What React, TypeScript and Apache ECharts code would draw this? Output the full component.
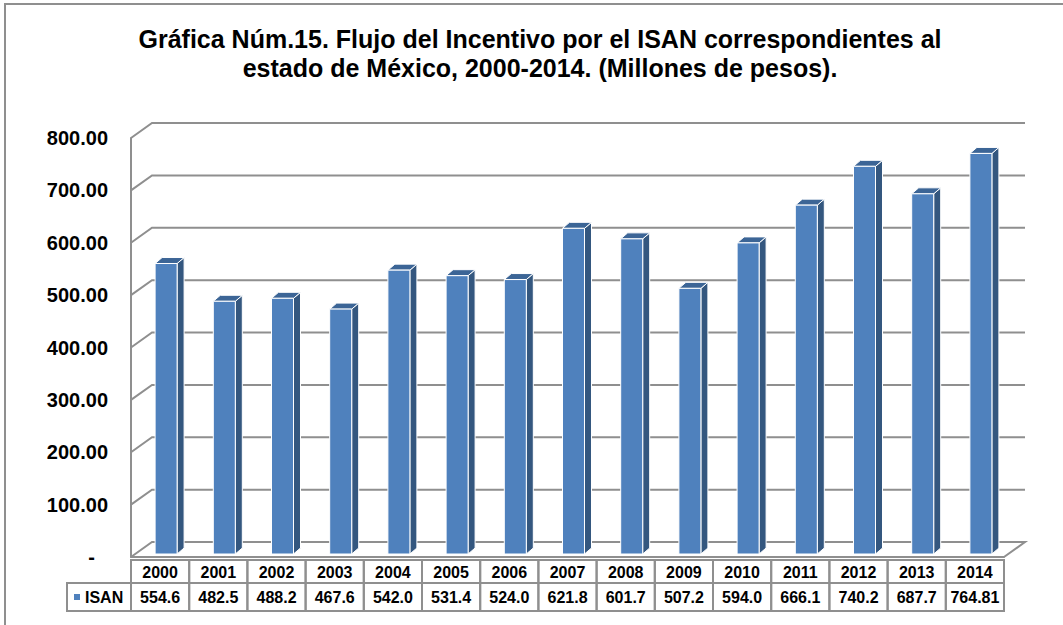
import React, { useEffect, useRef } from "react";
import * as echarts from "echarts";

const categories = ["2000", "2001", "2002", "2003", "2004", "2005", "2006", "2007", "2008", "2009", "2010", "2011", "2012", "2013", "2014"];
const isanValues = [554.6, 482.5, 488.2, 467.6, 542.0, 531.4, 524.0, 621.8, 601.7, 507.2, 594.0, 666.1, 740.2, 687.7, 764.81];
const yTicks = [0, 100, 200, 300, 400, 500, 600, 700, 800];
const seriesName = "ISAN";
const titleText = "Gráfica Núm.15. Flujo del Incentivo por el ISAN correspondientes al\nestado de México, 2000-2014. (Millones de pesos).";

const GRAY = "#8f8f8f";
const FRONT = "#4f81bd";
const SIDE = "#34577f";
const TOP = "#3c6596";
const DEPTH_X = 21;
const DEPTH_Y = -15;
const FONT = "'Liberation Sans', Arial, sans-serif";

function fmtValue(v: number): string {
  const t = v * 10;
  return Math.abs(t - Math.round(t)) < 1e-6 ? v.toFixed(1) : v.toFixed(2);
}

export default function App() {
  const ref = useRef<HTMLDivElement>(null);
  useEffect(() => {
    if (!ref.current) return;
    const chart = echarts.init(ref.current, null, { renderer: "svg" });
    const n = categories.length;

    const gridRender = (params: any, api: any) => {
      const v = api.value(1);
      const bw = api.size([1, 0])[0];
      const p0 = api.coord([0, v]);
      const p1 = api.coord([n - 1, v]);
      const x0 = p0[0] - bw / 2;
      const x1 = p1[0] + bw / 2;
      const y = p0[1];
      const pts: number[][] = [
        [x0, y],
        [x0 + DEPTH_X, y + DEPTH_Y],
        [x1 + DEPTH_X, y + DEPTH_Y],
      ];
      if (v === 0) pts.push([x1, y]);
      return {
        type: "polyline",
        shape: { points: pts },
        style: { stroke: GRAY, lineWidth: 2, fill: "none" },
        silent: true,
      };
    };

    const barRender = (params: any, api: any) => {
      const idx = api.value(0);
      const val = api.value(1);
      const base = api.coord([idx, 0]);
      const top = api.coord([idx, val]);
      const cx = base[0] + 6;
      const w = 22;
      const dx = 7;
      const dy = -6;
      const x0 = cx - w / 2;
      const x1 = cx + w / 2;
      const yT = top[1] - 3;
      const yB = base[1] - 3;
      return {
        type: "group",
        children: [
          {
            type: "polygon",
            shape: { points: [[x1, yT], [x1 + dx, yT + dy], [x1 + dx, yB + dy], [x1, yB]] },
            style: { fill: SIDE, stroke: "#ffffff", lineWidth: 1 },
          },
          {
            type: "polygon",
            shape: { points: [[x0, yT], [x0 + dx, yT + dy], [x1 + dx, yT + dy], [x1, yT]] },
            style: { fill: TOP, stroke: "#ffffff", lineWidth: 1 },
          },
          {
            type: "rect",
            shape: { x: x0, y: yT, width: w, height: yB - yT },
            style: { fill: FRONT, stroke: "#ffffff", lineWidth: 1 },
          },
        ],
      };
    };

    const tableRender = (params: any, api: any) => {
      const idx = api.value(0);
      const val = api.value(1);
      const bw = api.size([1, 0])[0];
      const c = api.coord([idx, 0]);
      const x0 = c[0] - bw / 2;
      const yTop = c[1] + 3;
      return {
        type: "group",
        children: [
          {
            type: "rect",
            shape: { x: x0, y: yTop, width: bw, height: 23 },
            style: { fill: "none", stroke: GRAY, lineWidth: 2 },
          },
          {
            type: "rect",
            shape: { x: x0, y: yTop + 23, width: bw, height: 28 },
            style: { fill: "none", stroke: GRAY, lineWidth: 2 },
          },
          {
            type: "text",
            x: c[0],
            y: yTop + 23 + 14.5,
            style: {
              text: fmtValue(val),
              fill: "#000",
              font: "bold 16px " + FONT,
              textAlign: "center",
              textVerticalAlign: "middle",
            },
          },
        ],
      };
    };

    chart.setOption({
      animation: false,
      backgroundColor: "#ffffff",
      title: {
        text: titleText,
        left: 540,
        top: 24,
        padding: 0,
        textAlign: "center",
        textStyle: {
          fontFamily: FONT,
          fontWeight: "bold",
          fontSize: 25,
          lineHeight: 29,
          color: "#000",
        },
      },
      grid: { left: 131, right: 59, top: 138, bottom: 68, containLabel: false },
      xAxis: {
        type: "category",
        data: categories,
        axisLine: { show: true, lineStyle: { color: GRAY, width: 2 } },
        axisTick: { show: false },
        axisLabel: {
          margin: 7,
          color: "#000",
          fontWeight: "bold",
          fontSize: 16,
          fontFamily: FONT,
        },
        splitLine: { show: false },
      },
      yAxis: {
        type: "value",
        min: 0,
        max: 800,
        interval: 100,
        axisLine: { show: true, lineStyle: { color: GRAY, width: 2 } },
        axisTick: { show: false },
        splitLine: { show: false },
        axisLabel: {
          margin: 23,
          color: "#000",
          fontWeight: "bold",
          fontSize: 20,
          fontFamily: FONT,
          formatter: (v: number) => (v === 0 ? "{d|-}" : v.toFixed(2)),
          rich: {
            d: {
              padding: [0, 13, 0, 0],
              fontWeight: "bold",
              fontSize: 20,
              color: "#000",
              fontFamily: FONT,
            },
          },
        },
      },
      graphic: [
        {
          type: "rect",
          shape: { x: 5, y: 4, width: 1100, height: 700 },
          style: { fill: "none", stroke: GRAY, lineWidth: 2 },
          silent: true,
          z: -10,
        },
        {
          type: "rect",
          shape: { x: 67, y: 583, width: 64, height: 28 },
          style: { fill: "none", stroke: GRAY, lineWidth: 2 },
          silent: true,
        },
        {
          type: "rect",
          shape: { x: 74, y: 594, width: 6, height: 6 },
          style: { fill: FRONT },
          silent: true,
        },
        {
          type: "text",
          x: 85,
          y: 597.5,
          style: {
            text: seriesName,
            fill: "#000",
            font: "bold 16px " + FONT,
            textAlign: "left",
            textVerticalAlign: "middle",
          },
          silent: true,
        },
      ],
      series: [
        {
          type: "custom",
          name: "grid3d",
          clip: false,
          z: 1,
          silent: true,
          renderItem: gridRender,
          encode: { x: 0, y: 1 },
          data: yTicks.map((v) => [0, v]),
        },
        {
          type: "custom",
          name: seriesName,
          clip: false,
          z: 2,
          renderItem: barRender,
          encode: { x: 0, y: 1 },
          data: isanValues.map((v, i) => [i, v]),
        },
        {
          type: "custom",
          name: "table",
          clip: false,
          z: 3,
          silent: true,
          renderItem: tableRender,
          encode: { x: 0, y: 1 },
          data: isanValues.map((v, i) => [i, v]),
        },
      ],
    });
    return () => chart.dispose();
  }, []);
  return (
    <div
      ref={ref}
      style={{ position: "fixed", left: 0, top: 0, width: 1063, height: 625, background: "#fff" }}
    />
  );
}
